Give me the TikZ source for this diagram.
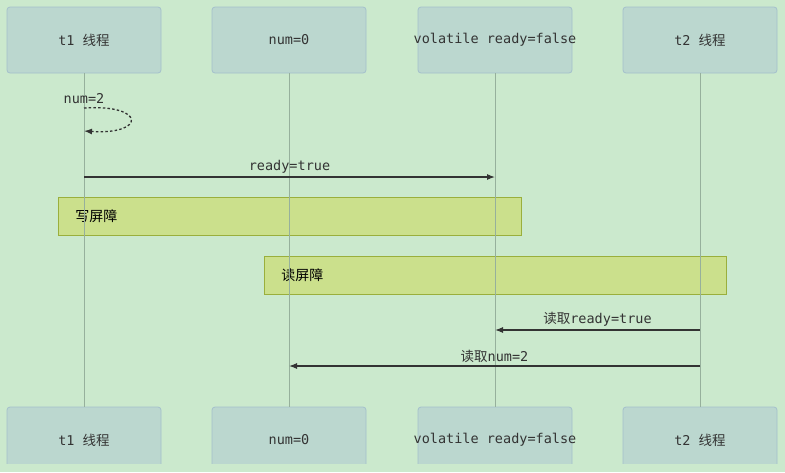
\documentclass[tikz,border=0pt]{standalone}
\usepackage{fontspec}
\usepackage{xcolor}
\usepackage{tikz}
\usetikzlibrary{arrows.meta, positioning}
\setmonofont{DejaVu Sans Mono}
\newfontfamily\cjk{Noto Sans CJK SC}
\newcommand{\zh}[1]{{\cjk #1}}
\definecolor{bgmint}{RGB}{203,233,205}
\definecolor{actorfill}{RGB}{187,215,207}
\definecolor{actorline}{RGB}{164,192,204}
\definecolor{barfill}{RGB}{203,224,140}
\definecolor{barline}{RGB}{154,175,60}
\definecolor{lifegray}{RGB}{150,176,156}
\definecolor{inkgray}{RGB}{51,51,51}

\begin{document}
\begin{tikzpicture}[
        x=1pt, y=-1pt,
        actor/.style={rectangle, rounded corners=3pt, draw=actorline, fill=actorfill,
                      line width=0.8pt, minimum width=154pt, minimum height=66pt,
                      inner sep=0pt, align=center, text=inkgray,
                      font=\fontsize{13.5}{15}\ttfamily},
        barrier/.style={rectangle, draw=barline, fill=barfill, line width=0.8pt,
                        minimum height=38pt, inner xsep=17pt, align=left,
                        text=black, font=\fontsize{14}{16}\cjk},
        lifeline/.style={draw=lifegray, line width=0.8pt},
        msg/.style={-{Latex[length=8pt, width=6pt]}, draw=inkgray, line width=1.1pt},
        note/.style={text=inkgray, font=\fontsize{13.5}{15}\ttfamily, inner sep=2pt}
      ]
      \useasboundingbox[fill=bgmint] (0,0) rectangle (785,472);

      % participants, top row
      \node[actor] (t1top)  at (84,40)  {t1 \zh{线程}};
      \node[actor] (numtop) at (289,40) {num=0};
      \node[actor] (vrtop)  at (495,40) {\makebox[0pt]{volatile ready=false}};
      \node[actor] (t2top)  at (700,40) {t2 \zh{线程}};

      % participants, bottom row (cut at the page edge)
      \begin{scope}
        \clip (0,0) rectangle (785,463);
        \node[actor] (t1bot)  at (84,440)  {t1 \zh{线程}};
        \node[actor] (numbot) at (289,440) {num=0};
        \node[actor] (vrbot)  at (495,440) {\makebox[0pt]{volatile ready=false}};
        \node[actor] (t2bot)  at (700,440) {t2 \zh{线程}};
      \end{scope}

      % barriers
      \node[barrier, anchor=north west, text width=429pt] (wbar) at (58,197) {写屏障};
      \node[barrier, anchor=north west, text width=428pt] (rbar) at (264,256) {读屏障};

      % lifelines
      \draw[lifeline] (t1top) -- (t1bot);
      \draw[lifeline] (numtop) -- (numbot);
      \draw[lifeline] (vrtop) -- (vrbot);
      \draw[lifeline] (t2top) -- (t2bot);

      % t1 writes num, then ready
      \coordinate (loopin)  at (t1top |- 0,108);
      \coordinate (loopout) at (t1top |- 0,131);
      \draw[msg, line width=1.3pt, dash pattern=on 2.5pt off 2.2pt] (loopin)
            .. controls (146,104) and (146,135) .. (loopout);
      \node[note, anchor=south] at (84,106) {num=2};
      \draw[msg] (t1top |- 0,177) -- node[note, above, yshift=1pt] {ready=true} (vrtop |- 0,177);

      % t2 reads ready, then num
      \draw[msg] (t2top |- 0,330) -- node[note, above, yshift=1pt] {\zh{读取}ready=true} (vrtop |- 0,330);
      \draw[msg] (t2top |- 0,366) -- node[note, above, yshift=1pt] {\zh{读取}num=2} (numtop |- 0,366);
    \end{tikzpicture}
\end{document}
